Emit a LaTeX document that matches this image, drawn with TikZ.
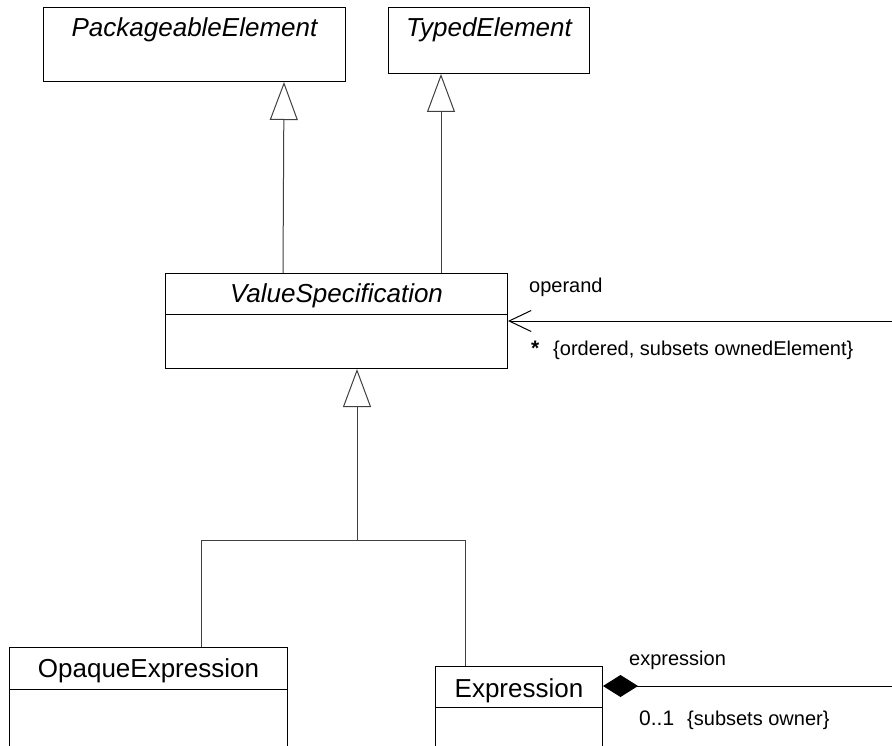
\documentclass[tikz,border=0pt]{standalone}
\usepackage{fontspec}
\setmainfont{Liberation Sans}
\usetikzlibrary{arrows.meta}

\begin{document}
\begin{tikzpicture}[
    x=1pt, y=-1pt,
    classbox/.style={draw, line width=1pt, anchor=north west, inner sep=0pt},
    classname/.style={anchor=base, inner sep=0pt, font=\fontsize{26}{30}\selectfont},
    role/.style={anchor=base west, inner sep=0pt, font=\fontsize{20}{24}\selectfont},
    divider/.style={line width=1pt},
    link/.style={line width=1pt, draw=black!75},
    gen/.style={link, -{Triangle[open, length=38pt, width=28pt]}},
    assoc/.style={line width=1pt}
]

\path[use as bounding box, fill=white] (0,0) rectangle (892,746);
\clip (0,0) rectangle (892,746);

% classes
\node[classbox, minimum width=302pt, minimum height=74pt] (pe) at (43,7) {};
\node[classbox, minimum width=201pt, minimum height=66pt] (te) at (388,7) {};
\node[classbox, minimum width=342pt, minimum height=95pt] (vs) at (165,273) {};
\node[classbox, minimum width=278pt, minimum height=120pt] (oe) at (9,647) {};
\node[classbox, minimum width=167pt, minimum height=100pt] (ex) at (435,666) {};

\node[classname] (pe-name) at ([yshift=-30pt]pe.north) {\itshape PackageableElement};
\node[classname] (te-name) at ([yshift=-30pt]te.north) {\itshape TypedElement};
\node[classname] (vs-name) at ([yshift=-29pt]vs.north) {\itshape ValueSpecification};
\node[classname] (oe-name) at ([yshift=-30pt]oe.north) {OpaqueExpression};
\node[classname] (ex-name) at ([yshift=-31pt]ex.north) {Expression};

\foreach \c/\d in {vs/41, oe/42, ex/41}
    \draw[divider] ([yshift=-\d pt]\c.north west) -- ([yshift=-\d pt]\c.north east);

% generalizations
\draw[gen] ([xshift=118pt]vs.north west) -- ([xshift=-62pt]pe.south east);
\draw[gen] ([xshift=276pt]vs.north west) -- ([xshift=53pt]te.south west);

\coordinate (fork) at (357,540);
\draw[gen] (fork) -- ([xshift=192pt]vs.south west);
\draw[link] ([xshift=53pt]oe.north) |- (fork);
\draw[link] ([xshift=-53.5pt]ex.north) |- (fork);

% associations
\coordinate (op-end) at (900,321);
\draw[assoc, -{Straight Barb[length=22pt, width=21pt]}] (op-end) -- (vs.east);
\node[role] (op-role) at (529,293) {operand};
\node[role, font=\fontsize{21}{24}\selectfont\bfseries] (op-mult) at (531,355) {*};
\node[role] (op-prop) at (553,355) {\{ordered, subsets ownedElement\}};

\coordinate (ex-end) at (900,686);
\draw[assoc, {Diamond[length=35pt, width=22pt]}-] ([yshift=-20pt]ex.north east) -- (ex-end);
\node[role] (ex-role) at (629,665) {expression};
\node[role, font=\fontsize{21}{24}\selectfont] (ex-mult) at (639,725) {0..1};
\node[role] (ex-prop) at (687,725) {\{subsets owner\}};

\end{tikzpicture}
\end{document}
